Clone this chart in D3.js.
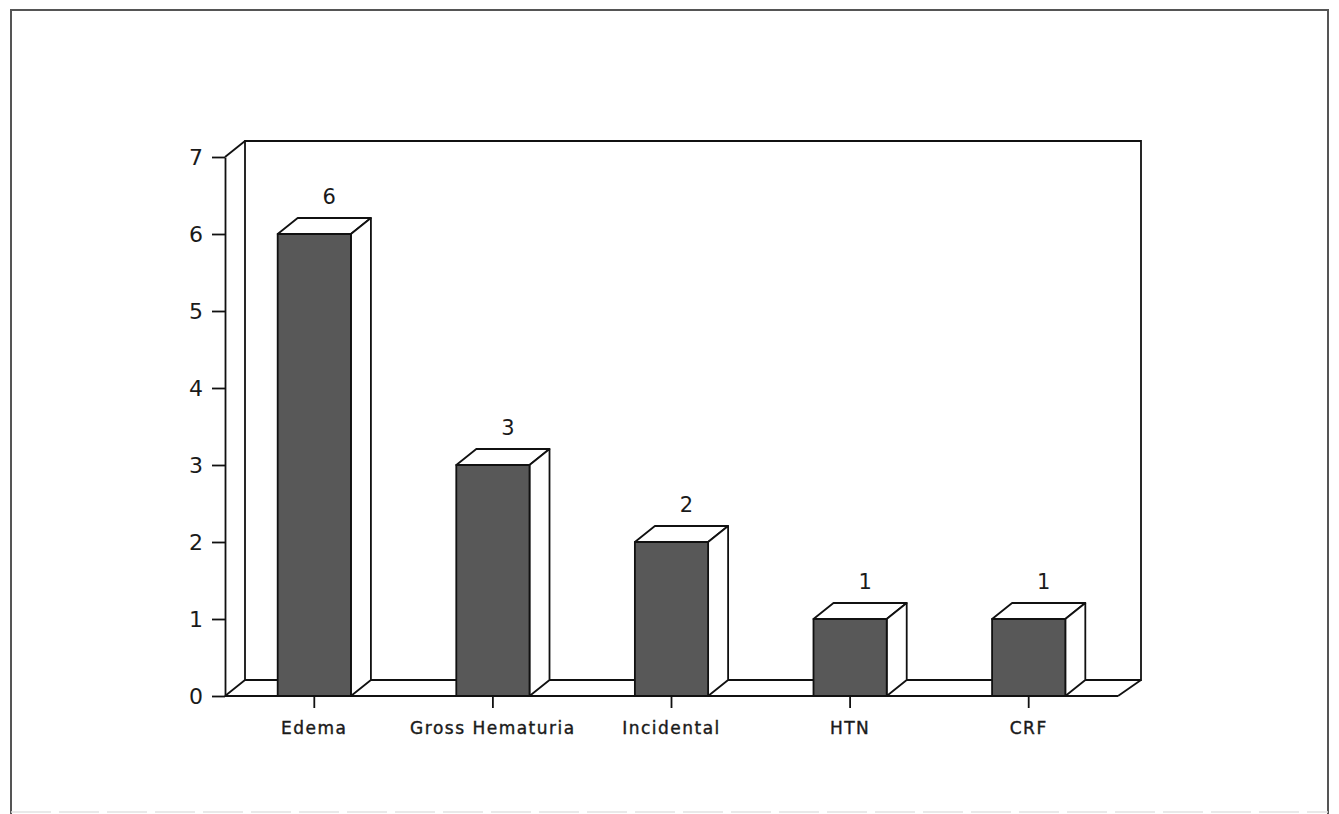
<!DOCTYPE html>
<html>
<head>
<meta charset="utf-8">
<script src="https://cdn.jsdelivr.net/npm/d3@7"></script>
<style>
  body { margin: 0; background: #fff; }
  text { font-family: "DejaVu Sans", sans-serif; fill: #1a1a1a; }
</style>
</head>
<body>
<div id="chart"></div>
<script>
// data
const categories = ["Edema", "Gross Hematuria", "Incidental", "HTN", "CRF"];
const counts = [6, 3, 2, 1, 1];
const yTicks = [0, 1, 2, 3, 4, 5, 6, 7];

const W = 1339, H = 814;
const plotLeft = 225, plotRight = 1118, plotBottom = 696, plotTop = 157;
// depth of the fake 3d box
const dx = 20, dy = -16;
const lw = 1.8;

const svg = d3.select("#chart").append("svg")
    .attr("width", W).attr("height", H);

// outer frame
svg.append("path")
    .attr("d", `M11,${H + 2} L11,10 L1328,10 L1328,${H + 2}`)
    .attr("fill", "none").attr("stroke", "#555").attr("stroke-width", 2);
svg.append("line")
    .attr("x1", 11).attr("x2", 1328).attr("y1", 812).attr("y2", 812)
    .attr("stroke", "#e2e2e2").attr("stroke-width", 1.5).attr("stroke-dasharray", "40,8");

const x = d3.scaleBand().domain(categories).range([plotLeft, plotRight]).padding(0);
const y = d3.scaleLinear().domain([0, 7]).range([plotBottom, plotTop]);
const barW = x.bandwidth() * 0.41;

const g = svg.append("g")
    .attr("fill", "none").attr("stroke", "#111").attr("stroke-width", lw);

// back wall and floor
g.append("path")
    .attr("d", `M${plotLeft + dx},${y(0) + dy} L${plotLeft + dx},${y(7) + dy} L${plotRight + dx + 3},${y(7) + dy}
                L${plotRight + dx + 3},${y(0) + dy} L${plotLeft + dx},${y(0) + dy}`);
g.append("path")
    .attr("d", `M${plotLeft},${y(7)} L${plotLeft + dx},${y(7) + dy}`);
g.append("path")
    .attr("d", `M${plotLeft},${y(0)} L${plotLeft + dx},${y(0) + dy}
                M${plotRight},${y(0)} L${plotRight + dx + 3},${y(0) + dy}`);

// y axis
const yAxis = svg.append("g")
    .attr("transform", `translate(${plotLeft},0)`)
    .call(d3.axisLeft(y).tickValues(yTicks).tickFormat(d3.format("d"))
      .tickSize(13).tickPadding(9).tickSizeOuter(0));
yAxis.select(".domain").attr("stroke", "#111").attr("stroke-width", lw);
yAxis.selectAll(".tick line").attr("stroke", "#111").attr("stroke-width", lw);
yAxis.selectAll("text").attr("font-size", 22).attr("fill", "#1a1a1a")
    .style("font-family", "DejaVu Sans, sans-serif");

// floor front line
g.append("line")
    .attr("x1", plotLeft).attr("x2", plotRight)
    .attr("y1", y(0)).attr("y2", y(0));

// bars
const bars = svg.selectAll(".bar").data(categories)
  .join("g").attr("class", "bar")
    .attr("stroke", "#111").attr("stroke-width", lw).attr("stroke-linejoin", "round");

const bx = d => x(d) + (x.bandwidth() - barW) / 2;

// top face
bars.append("path")
    .attr("fill", "#fff")
    .attr("d", (d, i) => {
      const x0 = bx(d), yt = y(counts[i]);
      return `M${x0},${yt} L${x0 + dx},${yt + dy} L${x0 + barW + dx},${yt + dy} L${x0 + barW},${yt} Z`;
    });
// side face
bars.append("path")
    .attr("fill", "#fff")
    .attr("d", (d, i) => {
      const x1 = bx(d) + barW, yt = y(counts[i]);
      return `M${x1},${yt} L${x1 + dx},${yt + dy} L${x1 + dx},${y(0) + dy} L${x1},${y(0)} Z`;
    });
// front face
bars.append("rect")
    .attr("fill", "#585858")
    .attr("x", d => bx(d))
    .attr("y", (d, i) => y(counts[i]))
    .attr("width", barW)
    .attr("height", (d, i) => y(0) - y(counts[i]));

// value labels
svg.selectAll(".val").data(categories)
  .join("text").attr("class", "val")
    .attr("x", d => x(d) + x.bandwidth() / 2 + dx / 2 + 5)
    .attr("y", (d, i) => y(counts[i]) + dy - 14)
    .attr("text-anchor", "middle")
    .attr("font-size", 21)
    .text((d, i) => counts[i]);

// category ticks and labels
svg.selectAll(".ctick").data(categories)
  .join("line").attr("class", "ctick")
    .attr("x1", d => x(d) + x.bandwidth() / 2).attr("x2", d => x(d) + x.bandwidth() / 2)
    .attr("y1", y(0)).attr("y2", y(0) + 12)
    .attr("stroke", "#111").attr("stroke-width", lw);

svg.selectAll(".cat").data(categories)
  .join("text").attr("class", "cat")
    .attr("x", d => x(d) + x.bandwidth() / 2)
    .attr("y", 734)
    .attr("text-anchor", "middle")
    .attr("font-size", 17)
    .attr("letter-spacing", 1.5)
    .attr("stroke", "#1a1a1a").attr("stroke-width", 0.4)
    .text(d => d);
</script>
</body>
</html>
